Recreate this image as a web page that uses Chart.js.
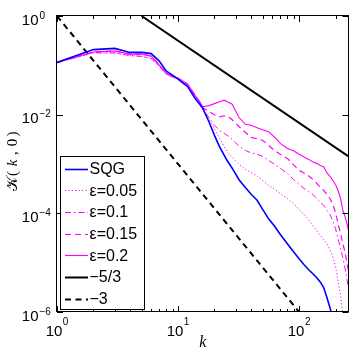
<!DOCTYPE html>
<html><head><meta charset="utf-8">
<script src="https://cdn.jsdelivr.net/npm/chart.js@4/dist/chart.umd.min.js"></script>
<style>html,body{margin:0;padding:0;background:#fff}canvas{display:block}</style>
</head><body>
<canvas id="c" width="354" height="354"></canvas>
<script>
// wavenumbers
const kSQG = [1,2,3,4,5,6,7,8,9,10,11,12,13,14,15,16,18,20,22,25,28,32,36,40,45,50,56,63,70,80,90,100,110,120,130,140,150,160,170,180,190];
const sqg = [0.1146,0.2085,0.2206,0.1828,0.1828,0.173,0.1218,0.0762,0.0632,0.0525,0.0435,0.0372,0.0272,0.0206,0.01667,0.01349,0.00718,0.00381,0.00225,0.001264,8.22e-4,4.75e-4,3.34e-4,2.47e-4,1.84e-4,1.2e-4,7.73e-5,5.39e-5,3.71e-5,2.43e-5,1.67e-5,1.2e-5,9.1e-6,7.2e-6,5.97e-6,4.95e-6,4.02e-6,3.1e-6,1.94e-6,1.22e-6,7.3e-7];

const kEps = [1,2,3,4,5,6,7,8,9,10,11,12,13,14,15,16,18,20,22,24,26,28,30,32,36,40,45,50,56,63,70,80,90,100,110,120,130,140,150,160,170,180,190,200,210,220,230,240,250,256];
const eps005 = [0.113,0.18,0.178,0.158,0.152,0.137,0.096,0.066,0.058,0.053,0.046,0.040,0.030,0.0228,0.0182,
  0.01228,0.00807,0.00505,0.00331,0.00228,0.00168,0.00136,0.00115,9.82e-4,7.76e-4,6.75e-4,5.73e-4,4.64e-4,3.67e-4,3.05e-4,2.53e-4,2.0e-4,1.58e-4,
  1.19e-4,9.46e-5,7.31e-5,5.65e-5,4.47e-5,3.54e-5,2.93e-5,2.43e-5,1.84e-5,1.32e-5,8.3e-6,4.31e-6,2.24e-6,8.4e-7,4e-7,2e-7,1.5e-7];
const eps010 = [0.113,0.18,0.178,0.158,0.152,0.137,0.096,0.066,0.058,0.053,0.046,0.040,0.030,0.0228,0.0182,
  0.01288,0.00885,0.00609,0.00482,0.00419,0.00367,0.00316,0.00268,0.00228,0.00189,0.00168,0.00157,0.00143,0.00118,9.82e-4,8.14e-4,6.44e-4,4.86e-4,
  3.85e-4,3.19e-4,2.77e-4,2.41e-4,2.0e-4,1.7e-4,1.44e-4,1.14e-4,9.46e-5,7.14e-5,4.91e-5,3.08e-5,1.93e-5,1.26e-5,7.55e-6,4.31e-6,2.96e-6];
const eps015 = [0.115,0.186,0.195,0.169,0.169,0.154,0.101,0.0685,0.0603,0.0549,0.0477,0.0415,0.0313,0.0237,0.0187,
  0.0138,0.01172,0.00995,0.00906,0.0095,0.00906,0.00787,0.00668,0.00568,0.00439,0.00347,0.00324,0.00302,0.00239,0.00185,0.00157,0.0013,9.59e-4,
  7.41e-4,6.59e-4,5.73e-4,4.86e-4,4.04e-4,3.34e-4,2.9e-4,2.41e-4,2.0e-4,1.51e-4,1.04e-4,6.2e-5,3.88e-5,2.43e-5,1.6e-5,9.1e-6,6.9e-6];
const eps020 = [0.115,0.186,0.195,0.169,0.169,0.154,0.101,0.0685,0.0603,0.0549,0.0477,0.0415,0.0313,0.0237,0.0187,
  0.01448,0.01524,0.01674,0.0182,0.01963,0.01787,0.01626,0.01172,0.00865,0.00638,0.00609,0.00542,0.00493,0.00449,0.00347,0.00262,0.00207,0.00185,
  0.00157,0.00138,0.00124,0.0011,0.00103,9.37e-4,8.73e-4,6.59e-4,5.6e-4,4.64e-4,3.85e-4,2.9e-4,2.0e-4,1.14e-4,8.6e-5,5.92e-5,4.47e-5];

// reference slopes (end points)
const kRef53 = [5, 256];
const ref53 = [1.0, 1.42e-3];
const kRef3 = [1, 100];
const ref3 = [1, 1e-6];

const seriesLabels = ['SQG','ε=0.05','ε=0.1','ε=0.15','ε=0.2','−5/3','−3'];
const xTickVals = [1, 10, 100];
const xTickExp = ['0', '1', '2'];
const yTickVals = [1, 1e-2, 1e-4, 1e-6];
const yTickExp = ['0', '−2', '−4', '−6'];
const xTitle = 'k';
const yTitleParts = ['𝒦', '(', 'k', ',', '0', ')'];

const xMin = 1, xMax = 256, yMin = 1e-6, yMax = 1;

function pts(ks, vs) { return ks.map((k, i) => ({ x: k, y: vs[i] })); }

const MAG = '#ff00ff';
const datasets = [
  { label: seriesLabels[0], data: pts(kSQG, sqg), borderColor: '#0000ff', borderWidth: 1.6, borderDash: [] },
  { label: seriesLabels[1], data: pts(kEps, eps005), borderColor: MAG, borderWidth: 1, borderDash: [1.2, 2.2] },
  { label: seriesLabels[2], data: pts(kEps, eps010), borderColor: MAG, borderWidth: 1, borderDash: [6, 3, 1.5, 3] },
  { label: seriesLabels[3], data: pts(kEps, eps015), borderColor: MAG, borderWidth: 1.2, borderDash: [6, 4] },
  { label: seriesLabels[4], data: pts(kEps, eps020), borderColor: MAG, borderWidth: 1.1, borderDash: [] },
  { label: seriesLabels[5], data: pts(kRef53, ref53), borderColor: '#000', borderWidth: 2, borderDash: [] },
  { label: seriesLabels[6], data: pts(kRef3, ref3), borderColor: '#000', borderWidth: 2, borderDash: [6, 4.5] }
].map(d => Object.assign(d, { showLine: true, pointRadius: 0, fill: false, tension: 0 }));

const decor = {
  id: 'decor',
  afterDatasetsDraw(chart) {
    const ctx = chart.ctx;
    const { left, right, top, bottom } = chart.chartArea;
    const xs = chart.scales.x, ys = chart.scales.y;
    ctx.save();
    // box
    ctx.strokeStyle = '#000';
    ctx.lineWidth = 1;
    ctx.strokeRect(Math.round(left) - 0.5, Math.round(top) - 0.5, Math.round(right - left), Math.round(bottom - top));
    // ticks (inside)
    ctx.beginPath();
    for (let d = 1; d <= 100; d *= 10) {
      for (let m = 1; m <= 9; m++) {
        const v = d * m;
        if (v > xMax) break;
        const px = Math.round(xs.getPixelForValue(v)) + 0.5;
        const len = m === 1 ? 6 : 3;
        ctx.moveTo(px, bottom); ctx.lineTo(px, bottom - len);
        ctx.moveTo(px, top); ctx.lineTo(px, top + len);
      }
    }
    yTickVals.forEach(v => {
      const py = Math.round(ys.getPixelForValue(v)) + 0.5;
      ctx.moveTo(left, py); ctx.lineTo(left + 6, py);
      ctx.moveTo(right, py); ctx.lineTo(right - 6, py);
    });
    ctx.stroke();
    // tick labels
    ctx.fillStyle = '#000';
    const base = '15px "Liberation Sans", Arial, sans-serif';
    const sup = '10px "Liberation Sans", Arial, sans-serif';
    ctx.textBaseline = 'alphabetic';
    yTickVals.forEach((v, i) => {
      const py = ys.getPixelForValue(v);
      ctx.font = base; ctx.textAlign = 'right';
      ctx.fillText('10', 38.5, py + 8.5);
      ctx.font = sup; ctx.textAlign = 'left';
      ctx.fillText(yTickExp[i], 39.5, py + 2.5);
    });
    xTickVals.forEach((v, i) => {
      const px = xs.getPixelForValue(v);
      ctx.font = base;
      const wb = ctx.measureText('10').width;
      ctx.font = sup;
      const we = ctx.measureText(xTickExp[i]).width;
      const x0 = px - (wb + we + 0.5) / 2;
      ctx.font = base; ctx.textAlign = 'left';
      ctx.fillText('10', x0, 335.5);
      ctx.font = sup;
      ctx.fillText(xTickExp[i], x0 + wb + 0.5, 325);
    });
    // y title, rotated, pieces centred where the reference puts them
    const yc = [183.5, 173.5, 163, 153, 142.5, 134];
    const fonts = ['15px "DejaVu Serif", "DejaVu Sans", serif',
      '15px "Liberation Serif", serif', 'italic 15px "Liberation Serif", serif',
      '15px "Liberation Serif", serif', '15px "Liberation Serif", serif', '15px "Liberation Serif", serif'];
    ctx.save();
    ctx.translate(16.5, 0);
    ctx.rotate(-Math.PI / 2);
    ctx.textAlign = 'center';
    ctx.textBaseline = 'alphabetic';
    yTitleParts.forEach((t, i) => {
      ctx.font = fonts[i];
      ctx.fillText(t, -yc[i], 0);
    });
    ctx.restore();
    // legend
    const lx = 60.5, ly = 156.5, lw = 84, lh = 153;
    ctx.fillStyle = '#fff';
    ctx.fillRect(lx, ly, lw, lh);
    ctx.strokeStyle = '#000';
    ctx.lineWidth = 1;
    ctx.setLineDash([]);
    ctx.strokeRect(lx, ly, lw, lh);
    ctx.font = '16px "Liberation Sans", Arial, sans-serif';
    ctx.textAlign = 'left';
    ctx.textBaseline = 'middle';
    chart.data.datasets.forEach((ds, i) => {
      const y = 168.5 + i * 21.7;
      ctx.beginPath();
      ctx.strokeStyle = ds.borderColor;
      ctx.lineWidth = ds.borderWidth;
      ctx.setLineDash(ds.borderDash || []);
      ctx.moveTo(65, Math.round(y) + 0.5);
      ctx.lineTo(88, Math.round(y) + 0.5);
      ctx.stroke();
      ctx.setLineDash([]);
      ctx.fillStyle = '#000';
      ctx.fillText(ds.label, 89.5, y + 1);
    });
    ctx.restore();
  }
};

new Chart(document.getElementById('c'), {
  type: 'scatter',
  data: { datasets },
  options: {
    responsive: false,
    devicePixelRatio: 1,
    animation: false,
    layout: { padding: { left: 0, top: 16, right: 5.5, bottom: 0 } },
    plugins: { legend: { display: false }, tooltip: { enabled: false } },
    scales: {
      x: {
        type: 'logarithmic', min: xMin, max: xMax,
        grid: { display: false }, border: { display: false },
        ticks: { display: false },
        title: { display: true, text: xTitle, color: '#000', padding: { top: 0, bottom: 2 },
          font: { family: '"Liberation Serif", "DejaVu Serif", serif', style: 'italic', size: 16 } },
        afterFit(s) { s.height = 42; }
      },
      y: {
        type: 'logarithmic', min: yMin, max: yMax,
        grid: { display: false }, border: { display: false },
        ticks: { display: false },
        title: { display: false },
        afterFit(s) { s.width = 57; }
      }
    }
  },
  plugins: [decor]
});
</script>
</body></html>
